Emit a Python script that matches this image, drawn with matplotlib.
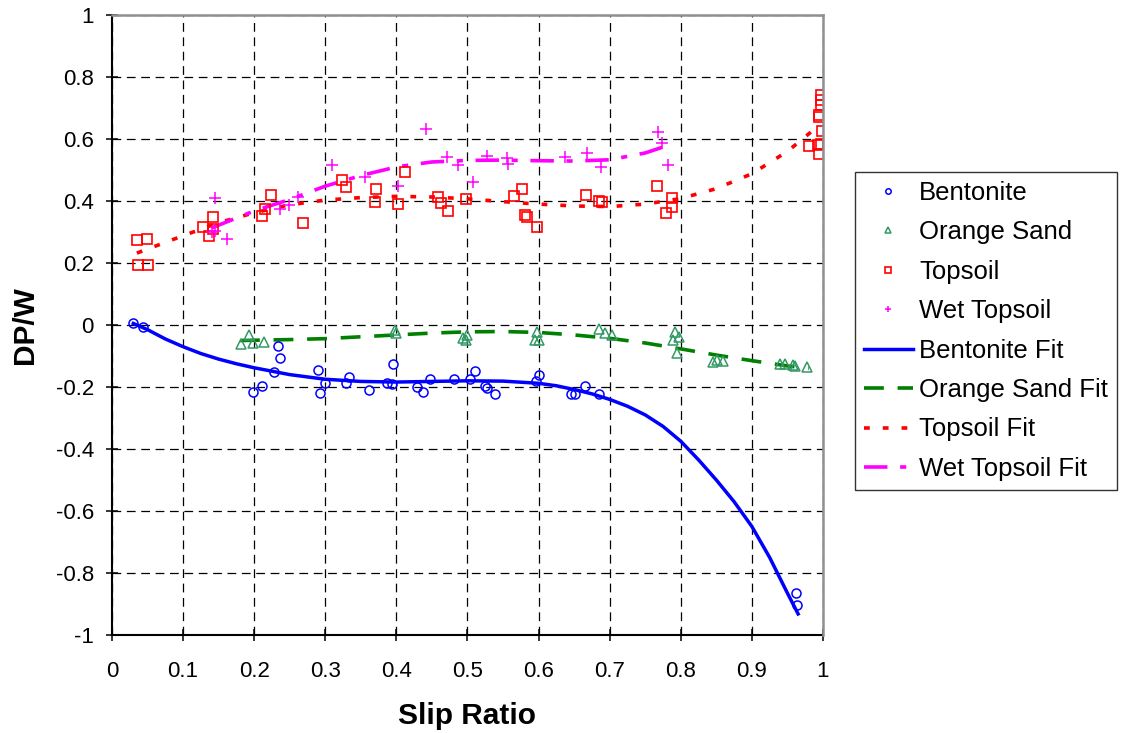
import matplotlib
matplotlib.use("Agg")
import matplotlib.pyplot as plt
from matplotlib.ticker import MultipleLocator

plt.rcParams['font.family'] = ['Liberation Sans', 'DejaVu Sans']

# ---- data: measured points ----
bent_x = [0.030, 0.044, 0.233, 0.236, 0.228, 0.198, 0.211, 0.290, 0.293, 0.300, 0.329, 0.333,
          0.361, 0.387, 0.394, 0.395, 0.429, 0.437, 0.447, 0.481, 0.504, 0.511, 0.525, 0.527,
          0.539, 0.596, 0.600, 0.646, 0.651, 0.665, 0.685, 0.962, 0.963]
bent_y = [0.006, -0.006, -0.068, -0.106, -0.152, -0.216, -0.197, -0.145, -0.219, -0.187, -0.187, -0.168,
          -0.210, -0.187, -0.190, -0.126, -0.200, -0.216, -0.174, -0.174, -0.174, -0.148, -0.197, -0.203,
          -0.222, -0.180, -0.161, -0.222, -0.222, -0.197, -0.222, -0.865, -0.903]

sand_x = [0.181, 0.193, 0.198, 0.214, 0.398, 0.400, 0.494, 0.498, 0.499, 0.598, 0.595, 0.600,
          0.685, 0.693, 0.703, 0.792, 0.789, 0.797, 0.795, 0.845, 0.851, 0.859,
          0.940, 0.947, 0.958, 0.961, 0.977]
sand_y = [-0.061, -0.032, -0.058, -0.055, -0.016, -0.026, -0.042, -0.048, -0.032, -0.023, -0.048, -0.048,
          -0.013, -0.026, -0.032, -0.023, -0.048, -0.039, -0.090, -0.119, -0.113, -0.116,
          -0.126, -0.126, -0.129, -0.132, -0.135]

top_x = [0.035, 0.049, 0.036, 0.050, 0.128, 0.142, 0.137, 0.142, 0.211, 0.215, 0.224, 0.269,
         0.323, 0.329, 0.372, 0.370, 0.412, 0.402, 0.458, 0.463, 0.473, 0.498, 0.565, 0.576,
         0.581, 0.584, 0.598, 0.666, 0.685, 0.689, 0.766, 0.787, 0.787, 0.779,
         0.980, 0.993, 0.997, 0.995, 0.998, 0.995, 0.997, 0.997, 0.997, 0.995]
top_y = [0.274, 0.277, 0.194, 0.194, 0.316, 0.348, 0.287, 0.310, 0.352, 0.374, 0.419, 0.329,
         0.468, 0.445, 0.439, 0.397, 0.494, 0.390, 0.413, 0.394, 0.368, 0.406, 0.416, 0.439,
         0.355, 0.348, 0.316, 0.419, 0.400, 0.397, 0.448, 0.410, 0.381, 0.361,
         0.577, 0.580, 0.584, 0.552, 0.626, 0.677, 0.742, 0.710, 0.726, 0.671]

wet_x = [0.145, 0.141, 0.145, 0.162, 0.236, 0.249, 0.262, 0.309, 0.356, 0.441, 0.402, 0.471,
         0.487, 0.508, 0.527, 0.555, 0.557, 0.637, 0.668, 0.688, 0.768, 0.773, 0.782]
wet_y = [0.410, 0.300, 0.303, 0.277, 0.374, 0.387, 0.413, 0.516, 0.477, 0.632, 0.448, 0.542,
         0.516, 0.461, 0.545, 0.539, 0.519, 0.542, 0.555, 0.510, 0.623, 0.587, 0.516]

# ---- data: fitted curves ----
bfit_x = [0.03, 0.05, 0.075, 0.10, 0.125, 0.15, 0.175, 0.20, 0.25, 0.30, 0.35, 0.40, 0.45, 0.50,
          0.55, 0.60, 0.625, 0.65, 0.675, 0.70, 0.725, 0.75, 0.775, 0.80, 0.825, 0.85, 0.875,
          0.90, 0.925, 0.95, 0.965]
bfit_y = [0.005, -0.015, -0.045, -0.070, -0.092, -0.110, -0.125, -0.138, -0.160, -0.175, -0.182,
          -0.184, -0.182, -0.180, -0.181, -0.188, -0.196, -0.208, -0.222, -0.240, -0.262, -0.290,
          -0.327, -0.375, -0.435, -0.500, -0.570, -0.650, -0.750, -0.865, -0.932]

sfit_x = [0.18, 0.25, 0.30, 0.35, 0.40, 0.45, 0.50, 0.55, 0.60, 0.65, 0.70, 0.75, 0.80, 0.85,
          0.90, 0.95, 0.98]
sfit_y = [-0.050, -0.047, -0.044, -0.038, -0.032, -0.026, -0.022, -0.021, -0.024, -0.032, -0.043,
          -0.058, -0.077, -0.097, -0.115, -0.132, -0.140]

tfit_x = [0.035, 0.05, 0.10, 0.15, 0.20, 0.25, 0.30, 0.35, 0.40, 0.45, 0.50, 0.55, 0.60, 0.65,
          0.70, 0.75, 0.80, 0.85, 0.90, 0.95, 0.995]
tfit_y = [0.232, 0.245, 0.288, 0.330, 0.362, 0.388, 0.403, 0.411, 0.415, 0.413, 0.407, 0.398,
          0.390, 0.384, 0.382, 0.390, 0.408, 0.440, 0.488, 0.560, 0.645]

wfit_x = [0.14, 0.20, 0.25, 0.30, 0.35, 0.40, 0.45, 0.50, 0.55, 0.60, 0.65, 0.70, 0.75, 0.78]
wfit_y = [0.313, 0.368, 0.405, 0.448, 0.482, 0.510, 0.526, 0.531, 0.532, 0.530, 0.529, 0.533,
          0.555, 0.578]

x_ticks = [0, 0.1, 0.2, 0.3, 0.4, 0.5, 0.6, 0.7, 0.8, 0.9, 1]
x_tick_labels = ['0', '0.1', '0.2', '0.3', '0.4', '0.5', '0.6', '0.7', '0.8', '0.9', '1']
y_ticks = [-1, -0.8, -0.6, -0.4, -0.2, 0, 0.2, 0.4, 0.6, 0.8, 1]
y_tick_labels = ['-1', '-0.8', '-0.6', '-0.4', '-0.2', '0', '0.2', '0.4', '0.6', '0.8', '1']

fig = plt.figure(figsize=(11.22, 7.33), dpi=100)
ax = fig.add_axes([0.0998, 0.1337, 0.6337, 0.8458])

blue = '#0000FF'
green = '#339966'
gfit = '#008000'
red = '#FF0000'
mag = '#FF00FF'

ax.plot(bent_x, bent_y, linestyle='none', marker='o', ms=6.5, mfc='none', mec=blue, mew=1.1,
        label='Bentonite', zorder=4)
ax.plot(sand_x, sand_y, linestyle='none', marker='^', ms=7, mfc='none', mec=green, mew=1.1,
        label='Orange Sand', zorder=4)
ax.plot(top_x, top_y, linestyle='none', marker='s', ms=7, mfc='none', mec=red, mew=1.2,
        label='Topsoil', zorder=4)
ax.plot(wet_x, wet_y, linestyle='none', marker='+', ms=8, mec=mag, mew=1.1,
        label='Wet Topsoil', zorder=4)

ax.plot(bfit_x, bfit_y, color=blue, lw=2.5, label='Bentonite Fit', zorder=3)
ax.plot(sfit_x, sfit_y, color=gfit, lw=2.6, dashes=(5.5, 3.8), label='Orange Sand Fit', zorder=3)
ax.plot(tfit_x, tfit_y, color=red, lw=2.6, dashes=(1.6, 3.6), label='Topsoil Fit', zorder=3)
ax.plot(wfit_x, wfit_y, color=mag, lw=2.6, dashes=(6.5, 3.5, 1.7, 3.5), label='Wet Topsoil Fit',
        zorder=3)

ax.set_xlim(0, 1)
ax.set_ylim(-1, 1)
ax.set_xticks(x_ticks)
ax.set_xticklabels(x_tick_labels)
ax.set_yticks(y_ticks)
ax.set_yticklabels(y_tick_labels)
ax.yaxis.set_minor_locator(MultipleLocator(0.1))
ax.tick_params(which='major', direction='inout', length=8, width=1.1, labelsize=16)
ax.tick_params(axis='x', which='major', pad=15)
ax.tick_params(axis='y', which='major', pad=9)
ax.tick_params(which='minor', length=0)

ax.grid(True, which='major', color='black', linestyle=(0, (7, 4.5)), linewidth=0.9)
ax.set_axisbelow(True)

for s in ['left', 'bottom']:
    ax.spines[s].set_color('black')
    ax.spines[s].set_linewidth(1.5)
for s in ['top', 'right']:
    ax.spines[s].set_color('#909090')
    ax.spines[s].set_linewidth(1.8)
    ax.spines[s].set_zorder(5)

ax.set_xlabel('Slip Ratio', fontsize=21.5, fontweight='bold', labelpad=14)
ax.set_ylabel('DP/W', fontsize=21.5, fontweight='bold', labelpad=12)

leg = fig.legend(loc='upper left', bbox_to_anchor=(855 / 1122, 1 - 172 / 733), fontsize=18.5,
                 frameon=True, fancybox=False, edgecolor='black', borderpad=0.35,
                 borderaxespad=0.0, labelspacing=0.6, handlelength=1.9, handletextpad=0.25,
                 markerscale=0.6)
leg.get_frame().set_linewidth(1.0)

fig.savefig('out.png', dpi=100)
